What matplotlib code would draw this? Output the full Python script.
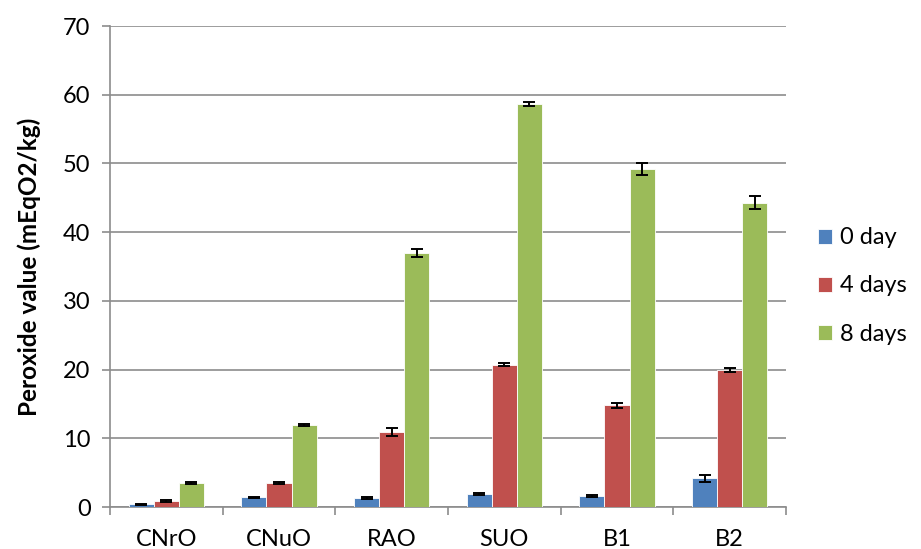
import numpy as np
import matplotlib.pyplot as plt

plt.rcParams['font.family'] = ['Lato', 'DejaVu Sans']

categories = ["CNrO", "CNuO", "RAO", "SUO", "B1", "B2"]
series_names = ["0 day", "4 days", "8 days"]
day0 = [0.4, 1.4, 1.3, 1.9, 1.6, 4.2]
day4 = [0.9, 3.5, 10.9, 20.7, 14.8, 20.0]
day8 = [3.5, 12.0, 37.0, 58.7, 49.2, 44.3]
err0 = [0.1, 0.1, 0.1, 0.1, 0.15, 0.5]
err4 = [0.1, 0.15, 0.6, 0.25, 0.35, 0.3]
err8 = [0.15, 0.15, 0.6, 0.3, 0.9, 1.0]
colors = ["#4F81BD", "#C0504D", "#9BBB59"]

fig = plt.figure(figsize=(9.21, 5.49), dpi=100)
ax = fig.add_axes([110 / 921, 1 - 507 / 549, 676 / 921, 481 / 549])

x = np.arange(len(categories))
w = 0.222
for i, (vals, errs) in enumerate([(day0, err0), (day4, err4), (day8, err8)]):
    ax.bar(x + (i - 1) * w, vals, w, color=colors[i], edgecolor="white",
           linewidth=0.6, label=series_names[i], zorder=3)
    ax.errorbar(x + (i - 1) * w, vals, yerr=errs, fmt="none", ecolor="black",
                elinewidth=1.4, capsize=4.3, capthick=1.4, zorder=4)

ax.set_xlim(-0.5, len(categories) - 0.5)
ax.set_ylim(0, 70)
ax.set_yticks(range(0, 71, 10))
ax.yaxis.grid(True, color="#8C8C8C", linewidth=1.2, zorder=0)
ax.set_axisbelow(True)

fs = 17
ax.set_xticks(x)
ax.set_xticklabels(categories)
ax.set_xticks(np.arange(-0.5, len(categories)), minor=True)
ax.tick_params(axis="x", which="major", length=0, pad=16, labelsize=fs)
ax.tick_params(axis="x", which="minor", length=6, color="#8C8C8C", width=1.2)
ax.tick_params(axis="y", length=6, color="#8C8C8C", width=1.2, labelsize=fs, pad=8)

for s in ["top", "right"]:
    ax.spines[s].set_visible(False)
for s in ["left", "bottom"]:
    ax.spines[s].set_color("#8C8C8C")
    ax.spines[s].set_linewidth(1.2)

ax.set_ylabel("Peroxide value (mEqO2/kg)", fontsize=17.5, fontweight="bold", labelpad=16)

handles, labels = ax.get_legend_handles_labels()
fig.legend(handles, labels, loc="center left", bbox_to_anchor=(818 / 921, 1 - 286 / 549),
           frameon=False, fontsize=fs, handlelength=0.6, handleheight=0.6,
           handletextpad=0.35, labelspacing=1.15, borderaxespad=0, borderpad=0)

fig.savefig("out.png", dpi=100)
